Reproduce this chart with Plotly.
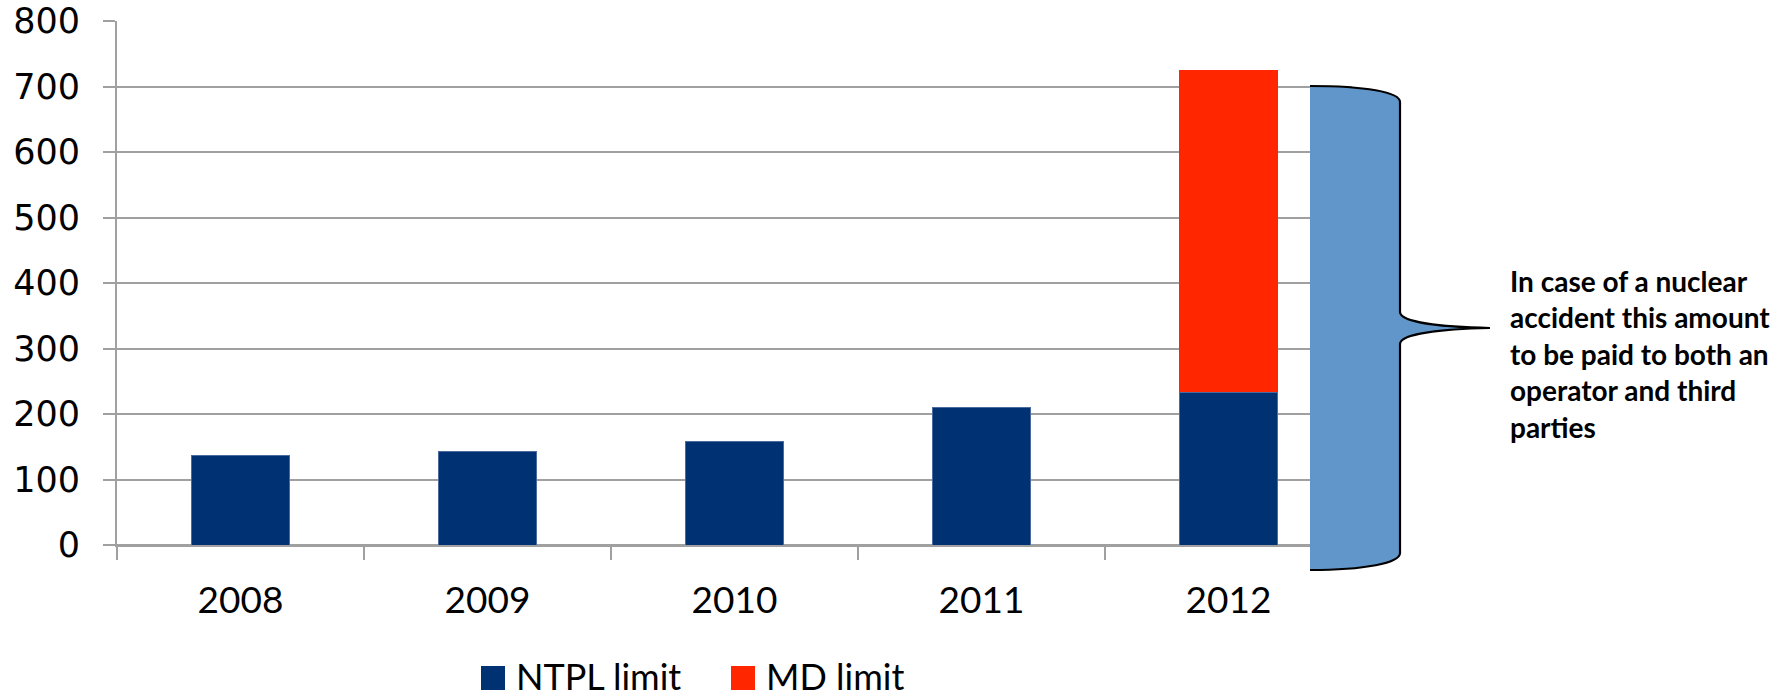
import plotly.graph_objects as go

# ---- data ----
years = ["2008", "2009", "2010", "2011", "2012"]
ntpl_limit = [136, 143, 158, 210, 233]
md_limit = [None, None, None, None, 492]
y_ticks = [0, 100, 200, 300, 400, 500, 600, 700, 800]
series_names = ["NTPL limit", "MD limit"]
series_colors = ["#003173", "#FF2600"]
note = "In case of a nuclear<br>accident this amount<br>to be paid to both an<br>operator and third<br>parties"

W, H = 1785, 698
L, R, T, B = 117, 1352, 21, 545  # plot area in pixels


def px(xp, yp):
    """pixels -> paper coords"""
    return (xp - L) / (R - L), (B - yp) / (B - T)


def path_from(cmds):
    out = []
    for cmd in cmds:
        if cmd[0] == "Z":
            out.append("Z")
            continue
        letter = cmd[0]
        coords = cmd[1:]
        parts = []
        for i in range(0, len(coords), 2):
            a, b = px(coords[i], coords[i + 1])
            parts.append(f"{a:.5f},{b:.5f}")
        out.append(letter + " ".join(parts))
    return " ".join(out)


brace_cmds = [
    ("M", 1310, 86),
    ("C", 1365, 86, 1400, 92, 1400, 102),
    ("L", 1400, 312),
    ("C", 1400, 322, 1440, 327, 1490, 328),
    ("C", 1440, 329, 1400, 334, 1400, 344),
    ("L", 1400, 553),
    ("C", 1400, 563, 1365, 570, 1310, 570),
]

fig = go.Figure()
fig.add_trace(go.Bar(x=years, y=ntpl_limit, name=series_names[0],
                     marker=dict(color=series_colors[0], line=dict(color="#4A6AA0", width=1)),
                     showlegend=False))
fig.add_trace(go.Bar(x=years, y=md_limit, name=series_names[1],
                     marker=dict(color=series_colors[1], line=dict(width=0)),
                     showlegend=False))

shapes = []
shapes.append(dict(type="path", xref="paper", yref="paper",
                   path=path_from(brace_cmds + [("Z",)]),
                   fillcolor="#6096C9", line=dict(width=0), layer="above"))
shapes.append(dict(type="path", xref="paper", yref="paper",
                   path=path_from(brace_cmds),
                   fillcolor="rgba(0,0,0,0)", line=dict(color="black", width=2.2), layer="above"))

annotations = []
ax_, ay_ = px(1508, 354)
annotations.append(dict(xref="paper", yref="paper", x=ax_, y=ay_, xanchor="left", yanchor="middle",
                        text="<br>".join("<b>" + s + "</b>" for s in note.split("<br>")),
                        showarrow=False, align="left",
                        font=dict(family="Lato", size=28, color="black")))

# manual legend
legend_items = [(481, series_names[0], series_colors[0]), (731, series_names[1], series_colors[1])]
for x0, name, col in legend_items:
    a0, b0 = px(x0, 690)
    a1, b1 = px(x0 + 24, 666)
    shapes.append(dict(type="rect", xref="paper", yref="paper", x0=a0, y0=b0, x1=a1, y1=b1,
                       fillcolor=col, line=dict(width=0)))
    tx, ty = px(x0 + 33, 676)
    annotations.append(dict(xref="paper", yref="paper", x=tx, y=ty, xanchor="left", yanchor="middle",
                            text=name, showarrow=False,
                            font=dict(family="Lato", size=36, color="black")))

fig.update_layout(
    width=W, height=H,
    margin=dict(l=L, r=W - R, t=T, b=H - B, pad=0, autoexpand=False),
    paper_bgcolor="white", plot_bgcolor="white",
    barmode="stack", bargap=0.6,
    showlegend=False,
    shapes=shapes, annotations=annotations,
    xaxis=dict(type="category", tickson="boundaries", ticks="outside", ticklen=13,
               tickcolor="#A0A0A0", tickwidth=2, showgrid=False, automargin=False,
               showline=True, linecolor="#A0A0A0", linewidth=2,
               tickfont=dict(family="Lato", size=37, color="black"),
               ticklabelstandoff=22),
    yaxis=dict(range=[0, 800], tickvals=y_ticks, ticks="outside", ticklen=12,
               tickcolor="#A0A0A0", tickwidth=2, automargin=False,
               ticklabeloverflow="allow",
               showgrid=True, gridcolor="#A0A0A0", gridwidth=2,
               zeroline=True, zerolinecolor="#A0A0A0", zerolinewidth=2,
               showline=True, linecolor="#A0A0A0", linewidth=2,
               tickfont=dict(family="DejaVu Sans", size=35, color="black"),
               ticklabelstandoff=16),
)

fig.write_html("out.html",
               config={"displayModeBar": False},
               post_script="document.body.style.margin='0';document.body.style.overflow='hidden';")
